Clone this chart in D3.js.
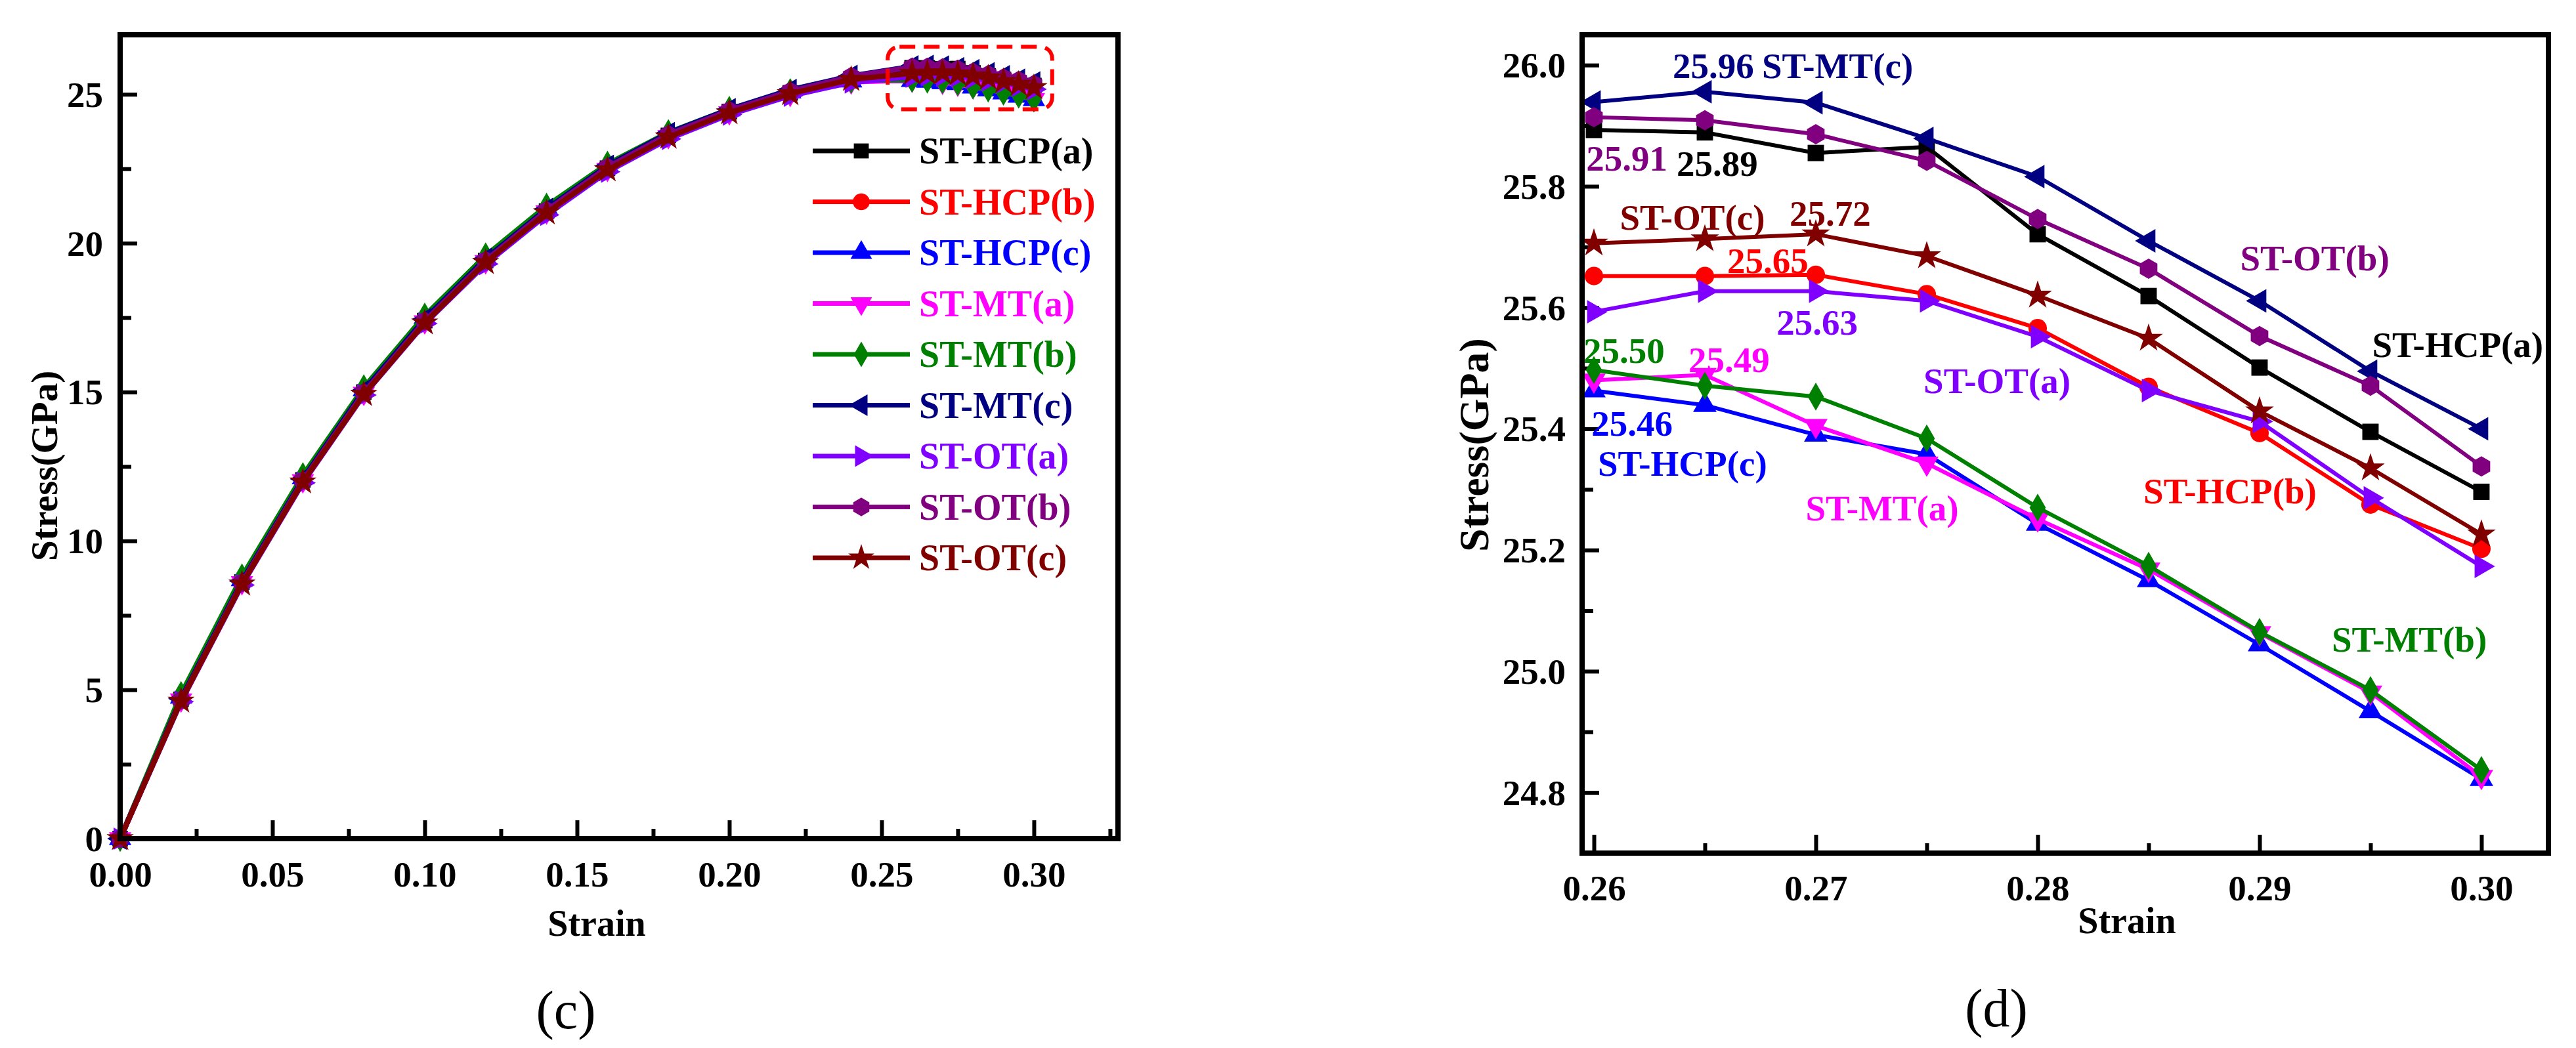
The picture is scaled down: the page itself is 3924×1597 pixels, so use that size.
<!DOCTYPE html>
<html><head><meta charset="utf-8">
<script src="https://cdn.jsdelivr.net/npm/d3@7"></script>
<style>html,body{margin:0;padding:0;background:#fff;} svg{display:block;}</style>
</head><body>
<svg id="chart" width="3924" height="1597"></svg>
<script>
// ---------------- DATA ----------------
const seriesNames = ["ST-HCP(a)", "ST-HCP(b)", "ST-HCP(c)", "ST-MT(a)", "ST-MT(b)", "ST-MT(c)", "ST-OT(a)", "ST-OT(b)", "ST-OT(c)"];
const strainAll = [0, 0.02, 0.04, 0.06, 0.08, 0.10, 0.12, 0.14, 0.16, 0.18, 0.20, 0.22, 0.24,
                   0.26, 0.265, 0.27, 0.275, 0.28, 0.285, 0.29, 0.295, 0.30];
const stressHCPa = [0, 4.68, 8.62, 12.05, 15.00, 17.40, 19.42, 21.08, 22.52, 23.62, 24.42, 25.05, 25.52,
                    25.893, 25.889, 25.855, 25.865, 25.721, 25.619, 25.501, 25.395, 25.296];
const stressHCPb = [0, 4.65, 8.59, 12.02, 14.97, 17.37, 19.39, 21.05, 22.49, 23.59, 24.39, 25.02, 25.45,
                    25.652, 25.652, 25.654, 25.622, 25.566, 25.469, 25.393, 25.275, 25.202];
const stressHCPc = [0, 4.75, 8.70, 12.12, 15.08, 17.50, 19.52, 21.20, 22.62, 23.70, 24.48, 25.08, 25.45,
                    25.463, 25.439, 25.390, 25.358, 25.243, 25.150, 25.044, 24.934, 24.822];
const stressMTa  = [0, 4.66, 8.60, 12.02, 14.96, 17.36, 19.38, 21.05, 22.48, 23.58, 24.38, 25.00, 25.42,
                    25.480, 25.489, 25.405, 25.343, 25.251, 25.168, 25.063, 24.965, 24.826];
const stressMTb  = [0, 4.85, 8.80, 12.20, 15.15, 17.56, 19.58, 21.25, 22.66, 23.72, 24.50, 25.10, 25.47,
                    25.497, 25.471, 25.453, 25.384, 25.270, 25.174, 25.065, 24.969, 24.837];
const stressMTc  = [0, 4.70, 8.65, 12.08, 15.05, 17.45, 19.48, 21.15, 22.60, 23.70, 24.50, 25.15, 25.62,
                    25.939, 25.956, 25.938, 25.879, 25.816, 25.710, 25.611, 25.495, 25.400];
const stressOTa  = [0, 4.60, 8.52, 11.95, 14.90, 17.30, 19.30, 20.95, 22.40, 23.50, 24.32, 24.95, 25.40,
                    25.593, 25.627, 25.627, 25.611, 25.552, 25.463, 25.412, 25.286, 25.173];
const stressOTb  = [0, 4.65, 8.60, 12.03, 14.98, 17.38, 19.42, 21.10, 22.55, 23.65, 24.46, 25.10, 25.60,
                    25.914, 25.909, 25.886, 25.842, 25.746, 25.664, 25.553, 25.471, 25.338];
const stressOTc  = [0, 4.62, 8.55, 11.98, 14.92, 17.32, 19.35, 21.02, 22.46, 23.56, 24.38, 25.02, 25.50,
                    25.706, 25.713, 25.721, 25.685, 25.620, 25.549, 25.429, 25.335, 25.226];
const stressSeries = [stressHCPa, stressHCPb, stressHCPc, stressMTa, stressMTb, stressMTc, stressOTa, stressOTb, stressOTc];

// tick labels
const xTicksLeft = [0, 0.05, 0.10, 0.15, 0.20, 0.25, 0.30];
const xTickLabelsLeft = ["0.00", "0.05", "0.10", "0.15", "0.20", "0.25", "0.30"];
const xMinorLeft = [0.025, 0.075, 0.125, 0.175, 0.225, 0.275, 0.325];
const yTicksLeft = [0, 5, 10, 15, 20, 25];
const yTickLabelsLeft = ["0", "5", "10", "15", "20", "25"];
const yMinorLeft = [2.5, 7.5, 12.5, 17.5, 22.5];

const xTicksRight = [0.26, 0.27, 0.28, 0.29, 0.30];
const xTickLabelsRight = ["0.26", "0.27", "0.28", "0.29", "0.30"];
const xMinorRight = [0.265, 0.275, 0.285, 0.295];
const yTicksRight = [24.8, 25.0, 25.2, 25.4, 25.6, 25.8, 26.0];
const yTickLabelsRight = ["24.8", "25.0", "25.2", "25.4", "25.6", "25.8", "26.0"];
const yMinorRight = [24.9, 25.1, 25.3, 25.5, 25.7, 25.9];

// annotations on the zoomed panel (data coordinates)
const annoTexts  = ["25.96", "ST-MT(c)", "25.91", "25.89", "ST-OT(c)", "25.72", "25.65", "25.63", "ST-OT(b)",
                    "ST-HCP(a)", "ST-OT(a)", "25.50", "25.49", "25.46", "ST-HCP(c)", "ST-MT(a)", "ST-HCP(b)", "ST-MT(b)"];
const annoStrain = [0.26538, 0.27098, 0.26148, 0.26556, 0.26444, 0.27065, 0.26784, 0.27006, 0.29249,
                    0.29893, 0.27817, 0.26136, 0.26609, 0.26172, 0.26399, 0.27299, 0.28867, 0.29675];
const annoStress = [25.999, 25.999, 25.846, 25.837, 25.749, 25.755, 25.677, 25.575, 25.681,
                    25.538, 25.479, 25.529, 25.514, 25.409, 25.342, 25.269, 25.297, 25.052];
const annoSeries = [5, 5, 7, 0, 8, 8, 1, 6, 7, 0, 6, 4, 3, 2, 2, 3, 1, 4];

// zoom-region highlight (data coordinates on left panel)
const zoomBoxStrain = [0.252, 0.306];
const zoomBoxStress = [24.5, 26.6];

// ---------------- STYLE ----------------
const seriesColors = ["#000000", "#FF0000", "#0000FF", "#FF00FF", "#008000", "#000080", "#8000FF", "#800080", "#800000"];
const FONT = "'Liberation Serif','Times New Roman',serif";

const symbolHexagon = {
  draw(ctx, size) {
    const r = Math.sqrt(2 * size / (3 * Math.sqrt(3)));
    for (let i = 0; i < 6; i++) {
      const a = Math.PI / 6 + i * Math.PI / 3;
      const px = r * Math.cos(a), py = r * Math.sin(a);
      if (i === 0) ctx.moveTo(px, py); else ctx.lineTo(px, py);
    }
    ctx.closePath();
  }
};
const seriesSymbols = [d3.symbolSquare, d3.symbolCircle, d3.symbolTriangle, d3.symbolTriangle, d3.symbolDiamond,
                       d3.symbolTriangle, d3.symbolTriangle, symbolHexagon, d3.symbolStar];
const seriesRot = [0, 0, 0, 180, 0, -90, 90, 0, 0];
const symbolScale = [1.0, 1.0, 0.9, 0.9, 0.85, 0.9, 0.9, 1.0, 0.95];

const svg = d3.select("#chart");
svg.append("rect").attr("width", 3924).attr("height", 1597).attr("fill", "#fff");

function drawPanel(cfg) {
  const g = svg.append("g");
  const x = d3.scaleLinear().domain(cfg.xDomain).range(cfg.xRange);
  const y = d3.scaleLinear().domain(cfg.yDomain).range(cfg.yRange);
  const x0 = cfg.xRange[0], x1 = cfg.xRange[1], y0 = cfg.yRange[0], y1 = cfg.yRange[1];

  function styleAxis(sel) {
    sel.select(".domain").remove();
    sel.selectAll("line").attr("stroke", "#000").attr("stroke-width", 6);
    sel.selectAll("text").attr("fill", "#000").attr("font-family", FONT)
       .attr("font-weight", "bold").attr("font-size", cfg.tickFont).attr("dominant-baseline", "central");
  }
  // minor ticks
  g.append("g").attr("transform", `translate(0,${y0})`)
    .call(d3.axisBottom(x).tickValues(cfg.xMinor).tickSize(-15).tickFormat(""))
    .call(styleAxis);
  g.append("g").attr("transform", `translate(${x0},0)`)
    .call(d3.axisLeft(y).tickValues(cfg.yMinor).tickSize(-17).tickFormat(""))
    .call(styleAxis);
  // major ticks
  const ax = g.append("g").attr("transform", `translate(0,${y0})`)
    .call(d3.axisBottom(x).tickValues(cfg.xTicks).tickSize(-28).tickFormat((d, i) => cfg.xLabels[i]))
    .call(styleAxis);
  ax.selectAll("text").attr("y", cfg.xLabelOff).attr("dy", null);
  const ay = g.append("g").attr("transform", `translate(${x0},0)`)
    .call(d3.axisLeft(y).tickValues(cfg.yTicks).tickSize(-26).tickFormat((d, i) => cfg.yLabels[i]))
    .call(styleAxis);
  ay.selectAll("text").attr("x", -cfg.yLabelOff).attr("dy", null).attr("text-anchor", "end");

  // series
  const line = d3.line().x(d => x(d[0])).y(d => y(d[1]));
  stressSeries.forEach((vals, si) => {
    const pts = strainAll.map((s, i) => [s, vals[i]]).filter(p => p[0] >= cfg.xDomain[0] && p[0] <= cfg.xDomain[1]);
    const sg = g.append("g");
    sg.append("path").attr("d", line(pts)).attr("fill", "none")
      .attr("stroke", seriesColors[si]).attr("stroke-width", cfg.lineW);
    const sym = d3.symbol().type(seriesSymbols[si]).size(cfg.symSize * symbolScale[si]);
    sg.selectAll("path.m").data(pts).join("path").attr("class", "m")
      .attr("d", sym)
      .attr("transform", d => `translate(${x(d[0])},${y(d[1])}) rotate(${seriesRot[si]})`)
      .attr("fill", seriesColors[si]);
  });

  // frame
  g.append("rect").attr("x", x0).attr("y", y1).attr("width", x1 - x0).attr("height", y0 - y1)
    .attr("fill", "none").attr("stroke", "#000").attr("stroke-width", 8);

  // axis titles
  g.append("text").attr("x", cfg.xTitlePos[0]).attr("y", cfg.xTitlePos[1]).text("Strain")
    .attr("text-anchor", "middle").attr("dominant-baseline", "central")
    .attr("font-family", FONT).attr("font-weight", "bold").attr("font-size", 56);
  g.append("text").attr("transform", `translate(${cfg.yTitlePos[0]},${cfg.yTitlePos[1]}) rotate(-90)`)
    .text("Stress(GPa)").attr("text-anchor", "middle").attr("dominant-baseline", "central")
    .attr("font-family", FONT).attr("font-weight", "bold").attr("font-size", cfg.yTitleFont);
  // caption
  g.append("text").attr("x", cfg.capPos[0]).attr("y", cfg.capPos[1]).text(cfg.caption)
    .attr("text-anchor", "middle").attr("dominant-baseline", "central")
    .attr("font-family", FONT).attr("font-size", 82);
  return {g, x, y};
}

// ---------- left panel ----------
const L = drawPanel({
  xDomain: [0, 0.3276], xRange: [183, 1703], yDomain: [0, 27], yRange: [1278, 53],
  xTicks: xTicksLeft, xLabels: xTickLabelsLeft, xMinor: xMinorLeft,
  yTicks: yTicksLeft, yLabels: yTickLabelsLeft, yMinor: yMinorLeft,
  tickFont: 55, xLabelOff: 54, yLabelOff: 26, lineW: 8, symSize: 560,
  xTitlePos: [909, 1407], yTitlePos: [67, 710], yTitleFont: 57,
  capPos: [862, 1539], caption: "(c)"
});
// zoom box
L.g.append("rect")
  .attr("x", L.x(zoomBoxStrain[0])).attr("y", L.y(zoomBoxStress[1]))
  .attr("width", L.x(zoomBoxStrain[1]) - L.x(zoomBoxStrain[0]))
  .attr("height", L.y(zoomBoxStress[0]) - L.y(zoomBoxStress[1]))
  .attr("rx", 18).attr("fill", "none").attr("stroke", "#FF0000").attr("stroke-width", 6)
  .attr("stroke-dasharray", "24 13");
// legend
const leg = L.g.append("g");
seriesNames.forEach((name, i) => {
  const ly = 230 + i * 77.5;
  leg.append("line").attr("x1", 1238).attr("x2", 1386).attr("y1", ly).attr("y2", ly)
    .attr("stroke", seriesColors[i]).attr("stroke-width", 7);
  leg.append("path").attr("d", d3.symbol().type(seriesSymbols[i]).size(520 * symbolScale[i])())
    .attr("transform", `translate(1312,${ly}) rotate(${seriesRot[i]})`).attr("fill", seriesColors[i]);
  leg.append("text").attr("x", 1400).attr("y", ly).text(name).attr("fill", seriesColors[i])
    .attr("dominant-baseline", "central").attr("font-family", FONT).attr("font-weight", "bold").attr("font-size", 56);
});

// ---------- right panel ----------
const R = drawPanel({
  xDomain: [0.259467, 0.30302], xRange: [2410, 3882], yDomain: [24.7, 26.05], yRange: [1300, 53],
  xTicks: xTicksRight, xLabels: xTickLabelsRight, xMinor: xMinorRight,
  yTicks: yTicksRight, yLabels: yTickLabelsRight, yMinor: yMinorRight,
  tickFont: 55, xLabelOff: 53, yLabelOff: 25, lineW: 6, symSize: 620,
  xTitlePos: [3240, 1403], yTitlePos: [2245, 678], yTitleFont: 64,
  capPos: [3041, 1536], caption: "(d)"
});
annoTexts.forEach((t, i) => {
  R.g.append("text").attr("x", R.x(annoStrain[i])).attr("y", R.y(annoStress[i])).text(t)
    .attr("fill", seriesColors[annoSeries[i]]).attr("text-anchor", "middle").attr("dominant-baseline", "central")
    .attr("font-family", FONT).attr("font-weight", "bold").attr("font-size", 55);
});
</script>
</body></html>
